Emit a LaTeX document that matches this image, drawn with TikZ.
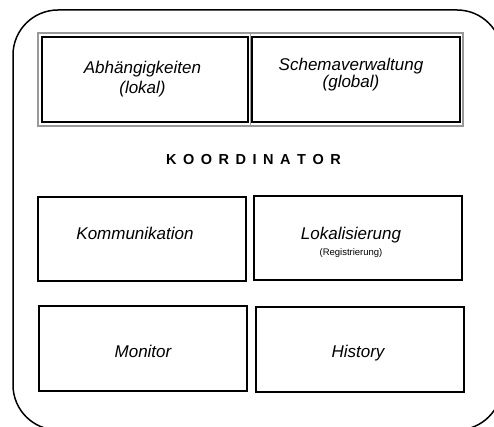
\documentclass[tikz,border=0pt]{standalone}
\usepackage{fontspec}
\setmainfont{Liberation Sans}
\newcommand{\spacedword}[1]{\def\sep{}\spacedloop#1\relax}
\def\spacedloop#1{\ifx#1\relax\else\sep#1\def\sep{\kern6.5pt}\expandafter\spacedloop\fi}
\begin{document}
\begin{tikzpicture}[x=1pt,y=-1pt,
  cell/.style={draw=black, line width=1.1pt, inner sep=0pt},
  frame/.style={draw=black!40, line width=1.8pt, inner sep=0pt},
  lbl/.style={font=\fontsize{17}{20}\selectfont\itshape, inner sep=0pt, anchor=base},
  small/.style={font=\fontsize{9.5}{11}\selectfont, inner sep=0pt, anchor=base},
  title/.style={font=\fontsize{14.5}{16}\selectfont\bfseries, inner sep=0pt, anchor=base}]
\useasboundingbox (0,0) rectangle (494,427);
\clip (0,0) rectangle (494,427);

% outer coordinator outline
\draw[line width=1.5pt, rounded corners=45pt] (13,10) rectangle (502,430);

% upper pair inside a grey table frame
\node[frame, minimum width=425pt, minimum height=93pt] (tbl) at (250.5,79.5) {};
\draw[draw=black!40, line width=1.8pt] (tbl.north) -- (tbl.south);
\node[cell, minimum width=206pt, minimum height=85pt] (abh) at (145,79.5) {};
\node[cell, minimum width=208pt, minimum height=85pt] (schema) at (356,79.5) {};

\node[lbl] (abh1) at (142.5,74) {Abhängigkeiten};
\node[lbl] (abh2) at (142.5,94) {(lokal)};
\node[lbl] (schema1) at (351,71) {Schemaverwaltung};
\node[lbl] (schema2) at (351,88) {(global)};

% heading
\node[title] (koord) at (253.5,165) {\spacedword{KOORDINATOR}};

% lower components
\node[cell, minimum width=208pt, minimum height=84pt] (komm) at (142,239) {};
\node[cell, minimum width=208pt, minimum height=84pt] (lok) at (358,238) {};
\node[cell, minimum width=208pt, minimum height=85pt] (mon) at (143,348.5) {};
\node[cell, minimum width=208pt, minimum height=85pt] (hist) at (360,349.5) {};

\node[lbl] (kommt) at (135,240) {Kommunikation};
\node[lbl] (lokt) at (351,240) {Lokalisierung};
\node[small] (regt) at (351,255) {(Registrierung)};
\node[lbl] (mont) at (143,357) {Monitor};
\node[lbl] (histt) at (358,357.5) {History};
\end{tikzpicture}
\end{document}
